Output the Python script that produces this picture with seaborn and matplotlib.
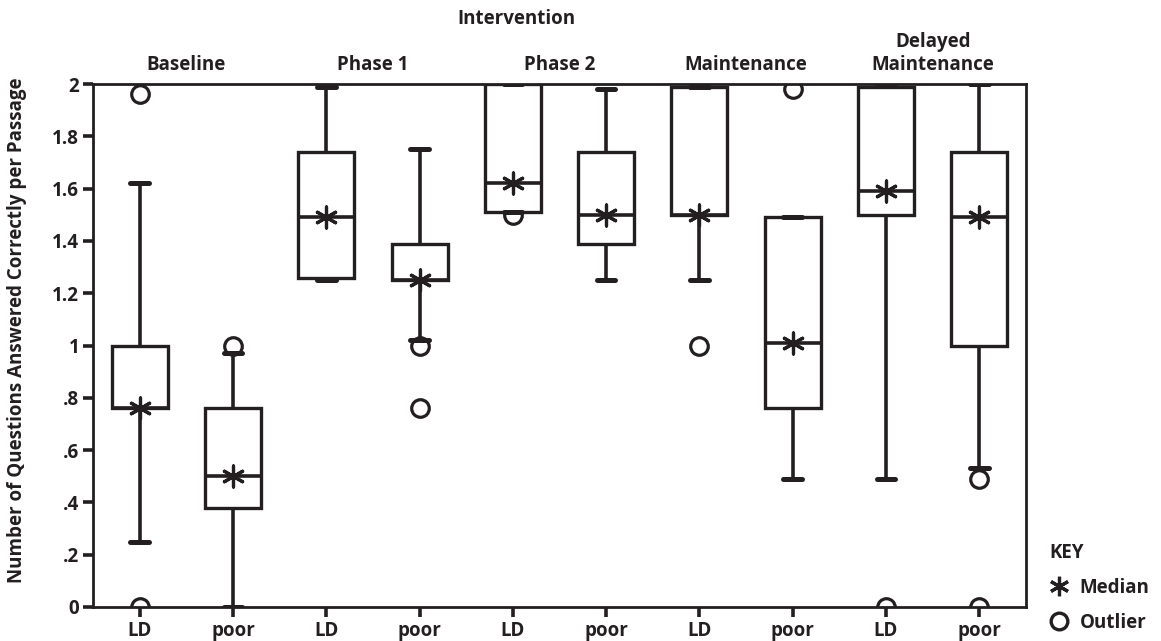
import numpy as np
import pandas as pd
import matplotlib
matplotlib.use("Agg")
import matplotlib.pyplot as plt
from matplotlib.lines import Line2D
import seaborn as sns

# === Data ===
phases = ["Baseline", "Phase 1", "Phase 2", "Maintenance", "Delayed\nMaintenance"]
readers = ["LD", "poor"]

# five-number summaries per box, in order Baseline LD, Baseline poor, ...
whisker_low = [0.25, 0.00, 1.25, 1.02, 1.51, 1.25, 1.25, 0.49, 0.49, 0.53]
q1 = [0.76, 0.38, 1.26, 1.25, 1.51, 1.39, 1.50, 0.76, 1.50, 1.00]
median = [0.76, 0.50, 1.49, 1.25, 1.62, 1.50, 1.50, 1.01, 1.59, 1.49]
q3 = [1.00, 0.76, 1.74, 1.39, 2.00, 1.74, 1.99, 1.49, 1.99, 1.74]
whisker_high = [1.62, 0.97, 1.99, 1.75, 2.00, 1.98, 1.99, 1.49, 2.00, 2.00]

# outliers: (box index, value)
outlier_box = [0, 0, 1, 3, 3, 4, 6, 7, 8, 9, 9]
outlier_val = [1.96, 0.00, 1.00, 1.00, 0.76, 1.50, 1.00, 1.98, 0.00, 0.49, 0.00]

ink = "#231f20"
fs = 13.5

# === Build long table: 5 points per box give exact quartiles ===
groups = [f"{p} {r}" for p in phases for r in readers]
tick_labels = [r for p in phases for r in readers]
rows = []
for i, g in enumerate(groups):
    for v in (whisker_low[i], q1[i], median[i], q3[i], whisker_high[i]):
        rows.append({"group": g, "value": v})
df = pd.DataFrame(rows)

med_df = pd.DataFrame({"pos": np.arange(len(groups)), "value": median})
out_df = pd.DataFrame({"pos": outlier_box, "value": outlier_val})

# === Plot ===
sns.set_style("ticks")
plt.rcParams["font.family"] = ["Open Sans", "DejaVu Sans"]
plt.rcParams["font.weight"] = "bold"

fig = plt.figure(figsize=(11.61, 6.41), dpi=100)
ax = fig.add_axes([93 / 1161, 1 - 607 / 641, (1026 - 93) / 1161, (607 - 84) / 641])

sns.scatterplot(data=out_df, x="pos", y="value", ax=ax, marker="o", s=160,
                facecolor="white", edgecolor=ink, linewidth=2.3, zorder=1)

sns.boxplot(data=df, x="group", y="value", order=groups, ax=ax,
            color="white", linecolor=ink, linewidth=2.4, width=0.6,
            whis=(0, 100), saturation=1, capwidths=0.2,
            boxprops={"zorder": 2}, whiskerprops={"zorder": 2, "linewidth": 2.6},
            capprops={"linewidth": 3.6, "zorder": 2},
            medianprops={"linewidth": 2.6, "zorder": 3})

sns.scatterplot(data=med_df, x="pos", y="value", ax=ax, marker=(6, 2, 0), s=230,
                color=ink, edgecolor=ink, linewidth=2.3, zorder=4)

ax.set_xlim(-0.5, 9.5)
ax.set_ylim(0, 2)
ax.set_xticks(np.arange(len(groups)))
ax.set_xticklabels(tick_labels)
yt = np.arange(0, 2.01, 0.2)
ax.set_yticks(yt)
ax.set_yticklabels(["0", ".2", ".4", ".6", ".8", "1", "1.2", "1.4", "1.6", "1.8", "2"])
ax.tick_params(axis="both", direction="out", length=7, width=2.6, color=ink,
               labelsize=fs, labelcolor=ink, pad=3)
for s in ax.spines.values():
    s.set_visible(True)
    s.set_linewidth(2.0)
    s.set_color(ink)
ax.set_xlabel("")
ax.set_ylabel("Number of Questions Answered Correctly per Passage",
              fontsize=fs, fontweight="bold", color=ink)
ax.yaxis.set_label_coords(-0.071, 0.53)

# phase headers above each pair
trans = ax.get_xaxis_transform()
for k, p in enumerate(phases):
    ax.text(2 * k + 0.5, 1.018, p, transform=trans, ha="center", va="bottom",
            fontsize=fs, fontweight="bold", color=ink, linespacing=1.2)
ax.text(4.04, 1.105, "Intervention", transform=trans, ha="center", va="bottom",
        fontsize=fs, fontweight="bold", color=ink)

# key
handles = [
    Line2D([], [], linestyle="none", marker=(6, 2, 0), markersize=14,
           markeredgewidth=2.3, color=ink),
    Line2D([], [], linestyle="none", marker="o", markersize=12,
           markerfacecolor="white", markeredgewidth=2.4, markeredgecolor=ink),
]
leg = fig.legend(handles, ["Median", "Outlier"], title="KEY", loc="lower left",
                 bbox_to_anchor=(1041 / 1161, 0.0), frameon=False,
                 prop={"size": fs, "weight": "bold"}, handlelength=1.0,
                 handletextpad=0.6, labelspacing=0.8, borderaxespad=0.05)
leg.get_title().set_fontweight("bold")
leg.get_title().set_fontsize(fs)
leg._legend_box.align = "left"
for t in leg.get_texts():
    t.set_color(ink)
leg.get_title().set_color(ink)

fig.savefig("out.png", dpi=100, facecolor="white")
